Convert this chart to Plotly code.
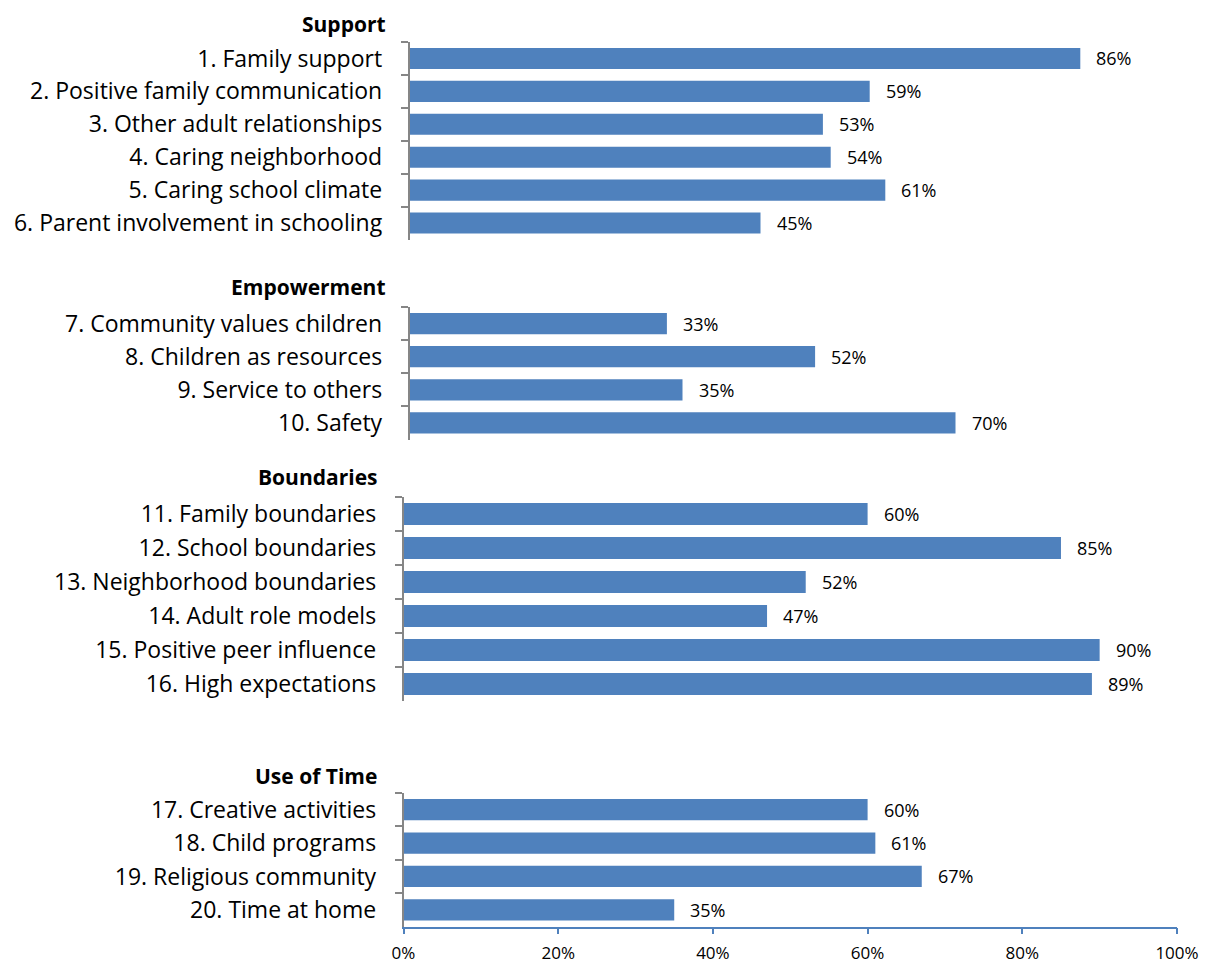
import plotly.graph_objects as go

# ---- data ----
group_titles = ["Support", "Empowerment", "Boundaries", "Use of Time"]

support_labels = ["1. Family support", "2. Positive family communication",
                  "3. Other adult relationships", "4. Caring neighborhood",
                  "5. Caring school climate", "6. Parent involvement in schooling"]
support_values = [0.86, 0.59, 0.53, 0.54, 0.61, 0.45]

empower_labels = ["7. Community values children", "8. Children as resources",
                  "9. Service to others", "10. Safety"]
empower_values = [0.33, 0.52, 0.35, 0.70]

bound_labels = ["11. Family boundaries", "12. School boundaries",
                "13. Neighborhood boundaries", "14. Adult role models",
                "15. Positive peer influence", "16. High expectations"]
bound_values = [0.60, 0.85, 0.52, 0.47, 0.90, 0.89]

time_labels = ["17. Creative activities", "18. Child programs",
               "19. Religious community", "20. Time at home"]
time_values = [0.60, 0.61, 0.67, 0.35]

x_tick_values = [0, 0.2, 0.4, 0.6, 0.8, 1.0]
x_tick_labels = ["0%", "20%", "40%", "60%", "80%", "100%"]

# ---- layout geometry (page pixels; the page body has an 8px margin) ----
PAGE_W, PAGE_H, OFF = 1207, 972, 8
W, H = PAGE_W - 2 * OFF, PAGE_H - 2 * OFF
geom = [
    dict(x0=409.5, x1=1189.5, y0=42, y1=239.5, tx=388, ty=None),
    dict(x0=409.5, x1=1189.5, y0=307, y1=439.5, tx=388, ty=287),
    dict(x0=403.5, x1=1177, y0=497, y1=701, tx=379, ty=477),
    dict(x0=403.5, x1=1177, y0=793, y1=926.5, tx=379, ty=776),
]

def px(x):
    return (x - OFF) / W

def py(y):
    return 1 - (y - OFF) / H

BAR = "#4F81BD"
GRAY = "#868686"
FONT = "Open Sans"

groups = [(support_labels, support_values), (empower_labels, empower_values),
          (bound_labels, bound_values), (time_labels, time_values)]

fig = go.Figure()
annotations = []
layout = dict(
    width=W, height=H, margin=dict(l=0, r=0, t=0, b=0, autoexpand=False),
    paper_bgcolor="white", plot_bgcolor="white", showlegend=False,
    bargap=0.36, font=dict(family=FONT, color="black"),
)

for i, ((labels, values), g, title) in enumerate(zip(groups, geom, group_titles)):
    n = i + 1
    xa = "x" if n == 1 else f"x{n}"
    ya = "y" if n == 1 else f"y{n}"
    fig.add_trace(go.Bar(
        x=values, y=labels, orientation="h", marker=dict(color=BAR, line=dict(width=0)),
        xaxis=xa, yaxis=ya, hoverinfo="skip",
    ))
    is_last = (n == len(groups))
    layout["xaxis" if n == 1 else f"xaxis{n}"] = dict(
        domain=[px(g["x0"]), px(g["x1"])], range=[0, 1], anchor=ya,
        visible=is_last, showgrid=False, zeroline=False, automargin=False,
        showline=is_last, linecolor=BAR, linewidth=1.5,
        ticks="outside" if is_last else "", tickcolor=BAR, ticklen=6, tickwidth=1.5,
        tickvals=x_tick_values, ticktext=x_tick_labels, ticklabeloverflow="allow",
        tickfont=dict(size=17, family=FONT, color="black"),
        ticklabelstandoff=4,
    )
    layout["yaxis" if n == 1 else f"yaxis{n}"] = dict(
        domain=[py(g["y1"]), py(g["y0"])], anchor=xa, automargin=False,
        type="category", categoryorder="array", categoryarray=labels,
        range=[len(labels) - 0.5, -0.5],
        showgrid=False, zeroline=False, showline=True, linecolor=GRAY, linewidth=1.5,
        ticks="outside", tickson="boundaries", ticklen=7, tickcolor=GRAY, tickwidth=1.5,
        tickfont=dict(size=23, family=FONT, color="black"),
        ticklabelstandoff=21,
    )
    if g["ty"] is None:
        ty, yanchor = 1.0, "top"
    else:
        ty, yanchor = py(g["ty"]), "middle"
    annotations.append(dict(
        text="<b>" + title + "</b>", xref="paper", yref="paper",
        x=px(g["tx"]), y=ty, xanchor="right", yanchor=yanchor,
        showarrow=False, font=dict(size=21, family=FONT, color="black"),
    ))
    for lab, v in zip(labels, values):
        annotations.append(dict(
            text=f"{round(v * 100)}%", x=v, y=lab, xref=xa, yref=ya,
            xanchor="left", yanchor="middle", xshift=14, showarrow=False,
            font=dict(size=18, family=FONT, color="black"),
        ))

layout["annotations"] = annotations
fig.update_layout(**layout)
fig.write_html("out.html")
